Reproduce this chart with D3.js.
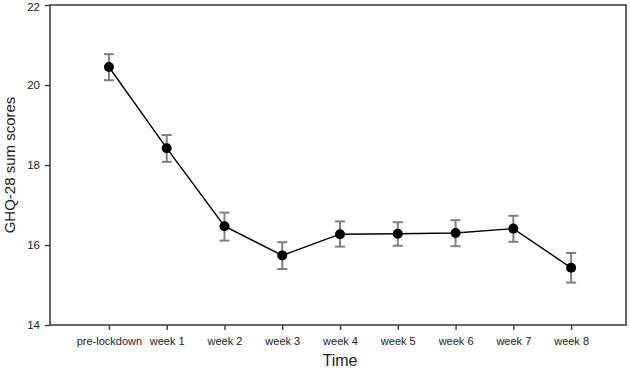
<!DOCTYPE html>
<meta charset="utf-8">
<script src="https://d3js.org/d3.v7.min.js"></script>
<style>
  body { margin: 0; background: #fff; }
  text { font-family: "Liberation Sans", Arial, sans-serif; }
</style>
<svg id="chart" width="630" height="374"></svg>
<script>
// data
const timePoints = ["pre-lockdown", "week 1", "week 2", "week 3", "week 4", "week 5", "week 6", "week 7", "week 8"];
const meanScores = [20.45, 18.42, 16.47, 15.74, 16.27, 16.28, 16.30, 16.41, 15.43];
const errUpper   = [20.77, 18.75, 16.81, 16.07, 16.59, 16.57, 16.62, 16.73, 15.80];
const errLower   = [20.12, 18.08, 16.11, 15.40, 15.96, 15.98, 15.97, 16.08, 15.06];
const yTicks = [14, 16, 18, 20, 22];

const svg = d3.select("#chart");
const plotLeft = 50, plotRight = 626, plotTop = 5, plotBottom = 325;

const x = d3.scaleLinear().domain([-1.02, 8.95]).range([plotLeft, plotRight]);
const y = d3.scaleLinear().domain([14, 22]).range([plotBottom, plotTop]);

// frame
svg.append("rect")
  .attr("x", plotLeft).attr("y", plotTop)
  .attr("width", plotRight - plotLeft).attr("height", plotBottom - plotTop)
  .attr("fill", "none").attr("stroke", "#444").attr("stroke-width", 1.6);

// y axis
const yAxis = svg.append("g")
  .attr("transform", `translate(${plotLeft},0)`)
  .call(d3.axisLeft(y).tickValues(yTicks).tickSize(5).tickPadding(5));
yAxis.select(".domain").remove();
yAxis.selectAll("line").attr("stroke", "#444").attr("stroke-width", 1.5);
yAxis.selectAll("text").attr("font-size", 11.5).attr("fill", "#222")
  .attr("dy", d => d === 22 ? "0.5em" : "0.32em");

// x axis
const xAxis = svg.append("g")
  .attr("transform", `translate(0,${plotBottom})`)
  .call(d3.axisBottom(x).tickValues(d3.range(timePoints.length))
    .tickFormat(i => timePoints[i]).tickSize(5).tickPadding(7));
xAxis.select(".domain").remove();
xAxis.selectAll("line").attr("stroke", "#444").attr("stroke-width", 1.5);
xAxis.selectAll("text").attr("font-size", 11).attr("fill", "#222");

// axis titles
svg.append("text")
  .attr("x", (plotLeft + plotRight) / 2 + 2).attr("y", 366)
  .attr("text-anchor", "middle").attr("font-size", 16).attr("fill", "#222")
  .text("Time");
svg.append("text")
  .attr("transform", `translate(15,${(plotTop + plotBottom) / 2}) rotate(-90)`)
  .attr("text-anchor", "middle").attr("font-size", 15).attr("fill", "#222")
  .text("GHQ-28 sum scores");

const idx = d3.range(timePoints.length);

// error bars
const eb = svg.append("g").attr("stroke", "#808080").attr("stroke-width", 2).attr("fill", "none");
eb.selectAll(".v").data(idx).join("line")
  .attr("x1", i => x(i)).attr("x2", i => x(i))
  .attr("y1", i => y(errUpper[i])).attr("y2", i => y(errLower[i]));
eb.selectAll(".t").data(idx).join("line")
  .attr("x1", i => x(i) - 5).attr("x2", i => x(i) + 5)
  .attr("y1", i => y(errUpper[i])).attr("y2", i => y(errUpper[i]));
eb.selectAll(".b").data(idx).join("line")
  .attr("x1", i => x(i) - 5).attr("x2", i => x(i) + 5)
  .attr("y1", i => y(errLower[i])).attr("y2", i => y(errLower[i]));

// mean line
svg.append("path")
  .datum(idx)
  .attr("fill", "none").attr("stroke", "#000").attr("stroke-width", 1.4)
  .attr("d", d3.line().x(i => x(i)).y(i => y(meanScores[i])));

// points
svg.selectAll("circle").data(idx).join("circle")
  .attr("cx", i => x(i)).attr("cy", i => y(meanScores[i]))
  .attr("r", 5).attr("fill", "#000");
</script>
